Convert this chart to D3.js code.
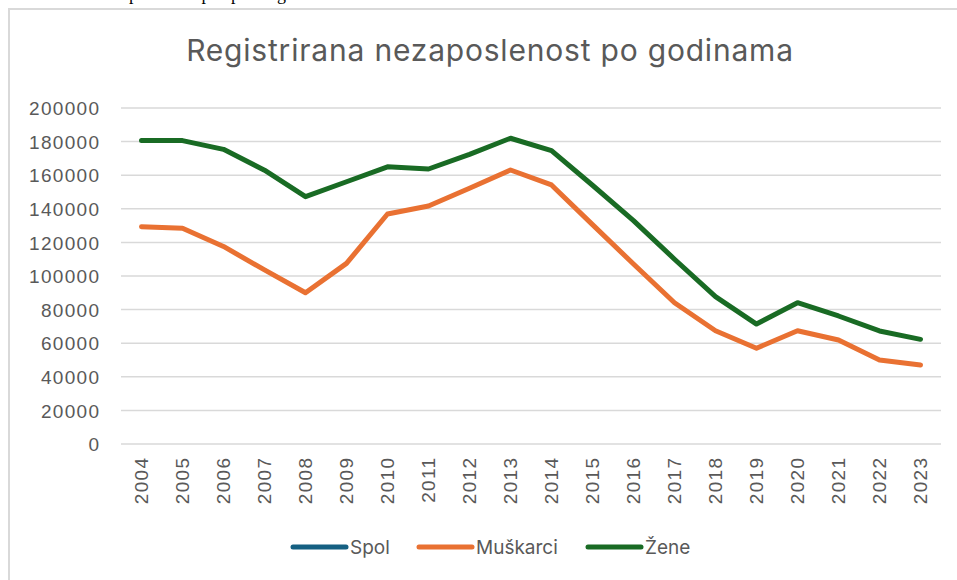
<!DOCTYPE html>
<html><head><meta charset="utf-8">
<script src="https://cdn.jsdelivr.net/npm/d3@7"></script>
<style>body{margin:0;background:#fff;overflow:hidden}svg{display:block}</style>
</head><body>
<svg id="c" width="957" height="580"></svg>
<script>
const years = ["2004","2005","2006","2007","2008","2009","2010","2011","2012","2013","2014","2015","2016","2017","2018","2019","2020","2021","2022","2023"];
const spol = [];
const muskarci = [129300,128400,117600,103600,90000,107500,136900,141700,152200,163100,154200,130600,107100,84100,67400,57000,67400,61900,50000,47000];
const zene = [180600,180600,175400,163000,147200,156100,165000,163700,172400,182000,174600,154000,133000,110000,87700,71400,84100,76200,67300,62300];
const yTicks = [0,20000,40000,60000,80000,100000,120000,140000,160000,180000,200000];
const seriesNames = ["Spol","Muškarci","Žene"];
const colors = ["#156082","#E97132","#196B24"];
const title = "Registrirana nezaposlenost po godinama";
const docLine = "Grafikon 3: Nezaposlenost po spolu i godinama";

const svg = d3.select("#c");
// cropped document line above the chart frame (only descenders visible)
const dl = svg.append("text").attr("x",0).attr("y",0).attr("font-family","Liberation Serif")
  .attr("font-size",18).attr("fill","#000").text(docLine);
const pIdx = docLine.indexOf("p");
const off = dl.node().getSubStringLength(0,pIdx);
dl.attr("x",129-off);
// chart frame
svg.append("rect").attr("x",9).attr("y",9).attr("width",1000).attr("height",620)
  .attr("fill","#fff").attr("stroke","#d9d9d9").attr("stroke-width",2);

const L=121, R=941, T=108, B=444;
const x = d3.scaleBand().domain(years).range([L,R]);
const y = d3.scaleLinear().domain([0,200000]).range([B,T]);

svg.append("text").attr("x",490).attr("y",61).attr("text-anchor","middle")
  .attr("font-family","Inter").attr("font-size",30).attr("fill","#595959")
  .attr("letter-spacing","0.8").text(title);

// gridlines
svg.append("g").selectAll("line").data(yTicks).join("line")
  .attr("x1",L).attr("x2",R).attr("y1",d=>y(d)).attr("y2",d=>y(d))
  .attr("stroke","#d9d9d9").attr("stroke-width",1.5);

// y axis labels
const ya = svg.append("g").attr("transform",`translate(${L-20.7},0)`)
  .call(d3.axisLeft(y).tickValues(yTicks).tickSize(0).tickPadding(0).tickFormat(d3.format("d")));
ya.select(".domain").remove();
ya.selectAll("text").attr("font-family","Liberation Sans").attr("font-size",19).attr("letter-spacing","1.3")
  .attr("fill","#595959").attr("dy","0.35em");

// x axis labels
const xa = svg.append("g").attr("transform",`translate(0,${B})`)
  .call(d3.axisBottom(x).tickSize(0).tickPadding(0));
xa.select(".domain").remove();
xa.selectAll("text").attr("font-family","Liberation Sans").attr("font-size",19).attr("letter-spacing","1.3")
  .attr("fill","#595959")
  .attr("text-anchor","end").attr("transform","rotate(-90)").attr("x",-12.7).attr("y",0).attr("dy","0.35em");

const line = d3.line().x((d,i)=>x(years[i])+x.bandwidth()/2).y(d=>y(d));
[spol,muskarci,zene].forEach((s,k)=>{
  if(s.length) svg.append("path").datum(s).attr("d",line).attr("fill","none")
    .attr("stroke",colors[k]).attr("stroke-width",5).attr("stroke-linejoin","round").attr("stroke-linecap","round");
});

// legend
const lg = svg.append("g").attr("transform","translate(0,547)");
const lx = [293,419,588];
seriesNames.forEach((n,k)=>{
  lg.append("line").attr("x1",lx[k]).attr("x2",lx[k]+53).attr("y1",0).attr("y2",0)
    .attr("stroke",colors[k]).attr("stroke-width",5).attr("stroke-linecap","round");
  lg.append("text").attr("x",lx[k]+57).attr("y",0).attr("dy","0.35em")
    .attr("font-family","Inter").attr("font-size",19).attr("fill","#595959").text(n);
});
</script>
</body></html>
